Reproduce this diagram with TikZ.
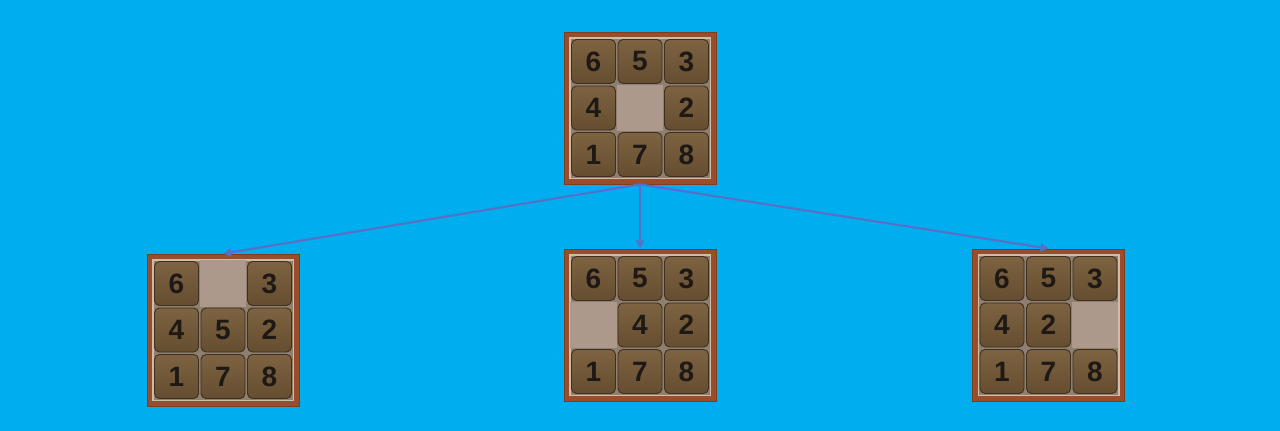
\documentclass[tikz,border=0pt]{standalone}
\usepackage{fontspec}
\newfontfamily\digitfont{Liberation Sans}
\usetikzlibrary{arrows.meta}
\definecolor{bgblue}{HTML}{00AEEF}
\definecolor{framecol}{HTML}{9A4D2B}
\definecolor{frameedge}{HTML}{7E3C20}
\definecolor{innerline}{HTML}{CDBDA8}
\definecolor{gridbg}{HTML}{8E7F70}
\definecolor{emptycell}{HTML}{AC998C}
\definecolor{tiletop}{HTML}{7D6341}
\definecolor{tilebot}{HTML}{654D30}
\definecolor{tileedge}{HTML}{3E2F1E}
\definecolor{digitcol}{HTML}{1E1915}
\definecolor{arrowcol}{HTML}{5770C6}
\tikzset{
  boardframe/.style={rectangle, minimum width=152pt, minimum height=152pt, inner sep=0pt,
    fill=framecol, draw=frameedge, line width=0.8pt},
  tile/.style={rectangle, rounded corners=5pt, minimum width=44pt, minimum height=44pt,
    inner sep=0pt, top color=tiletop, bottom color=tilebot, draw=tileedge, line width=0.9pt,
    text=digitcol, font=\digitfont\bfseries\fontsize{28}{28}\selectfont},
  link/.style={draw=arrowcol, line width=2.1pt, -{Triangle[length=8pt,width=8pt]}},
}
\newcommand\pboard[4]{%
  \node[boardframe] (#1) at (#2,#3) {};
  \begin{scope}[shift={(#1.center)}]
    \fill[innerline] (-71,-71) rectangle (71,71);
    \fill[gridbg] (-69.5,-69.5) rectangle (69.5,69.5);
    \foreach \v [count=\i from 0] in {#4} {
      \pgfmathtruncatemacro\cc{mod(\i,3)}
      \pgfmathtruncatemacro\rr{div(\i,3)}
      \pgfmathsetmacro\tx{(\cc-1)*46.5}
      \pgfmathsetmacro\ty{(\rr-1)*46.5}
      \ifnum\v=0
        \fill[emptycell] (\tx-23.2,\ty-23.2) rectangle (\tx+23.2,\ty+23.2);
      \else
        \node[tile] at (\tx,\ty) {\v};
      \fi
    }
  \end{scope}
}
\begin{document}
\begin{tikzpicture}[x=1pt,y=-1pt]
\fill[bgblue] (0,0) rectangle (1280,431);
\useasboundingbox (0,0) rectangle (1280,431);
\pboard{top}{640}{108}{6,5,3,4,0,2,1,7,8}
\pboard{left}{223}{330}{6,0,3,4,5,2,1,7,8}
\pboard{mid}{640}{325}{6,5,3,0,4,2,1,7,8}
\pboard{right}{1048.5}{325}{6,5,3,4,2,0,1,7,8}
\draw[link] (top.south) -- (left.north);
\draw[link] (top.south) -- (mid.north);
\draw[link] (top.south) -- (right.north);
\end{tikzpicture}
\end{document}
